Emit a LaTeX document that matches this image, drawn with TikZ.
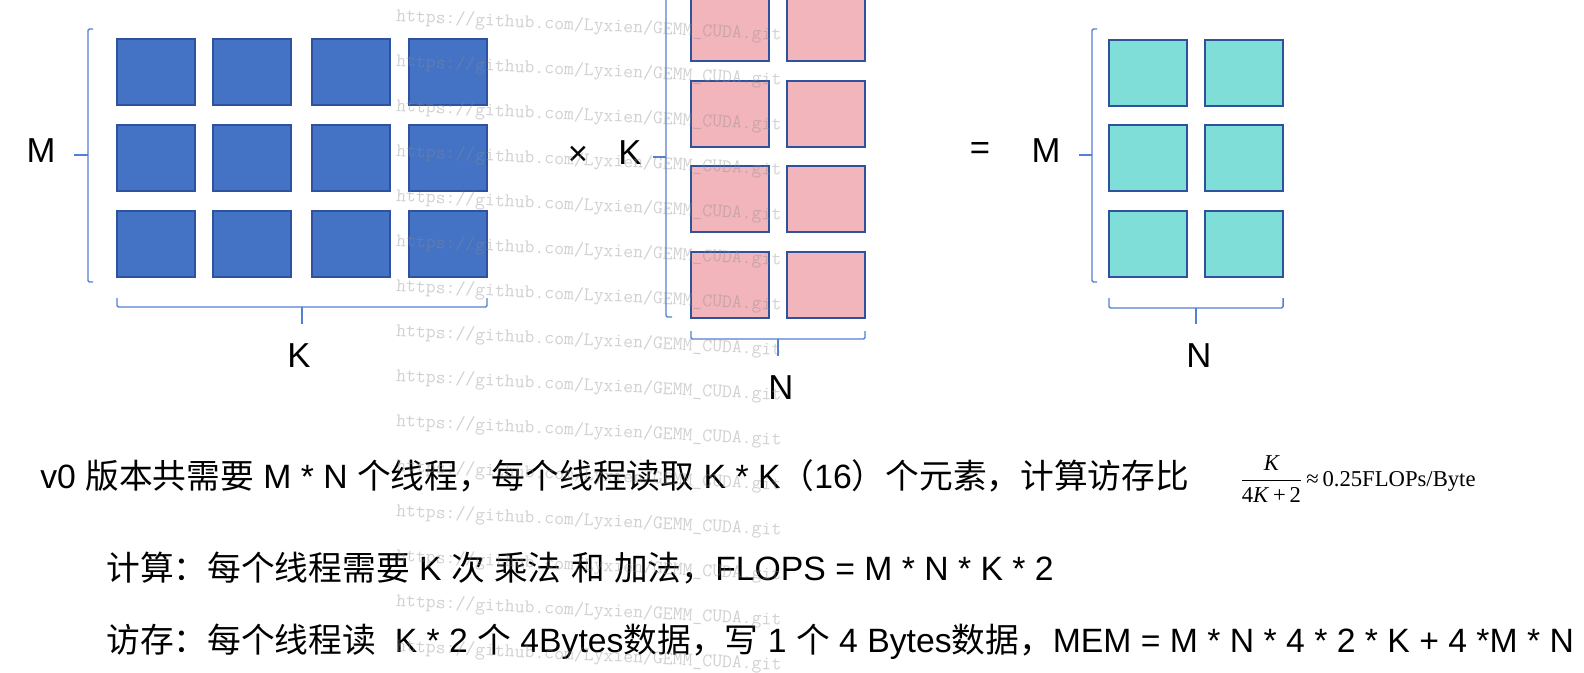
\documentclass[tikz,border=0pt]{standalone}
\usepackage{amsmath}
\usepackage{fontspec}
\usepackage{xcolor}
\usetikzlibrary{positioning}
\setmainfont{Liberation Sans}
\newfontfamily\cjk{Noto Sans CJK SC}
\newfontfamily\timesf{Liberation Serif}
\newcommand{\zh}[1]{{\cjk #1}}
\definecolor{blueA}{HTML}{4472C4}
\definecolor{pinkB}{HTML}{F3B5BC}
\definecolor{tealC}{HTML}{7FDED8}
\definecolor{cellline}{HTML}{2F529E}
\definecolor{bracketblue}{HTML}{5280D2}
\definecolor{wmgray}{HTML}{8C8C8C}

\begin{document}
\begin{tikzpicture}[x=0.75pt,y=-0.75pt,
    cellbox/.style={draw=cellline,line width=1.5pt,minimum width=58.5pt,
                    minimum height=49.5pt,inner sep=0pt},
    bracketline/.style={draw=bracketblue,line width=1.1pt,rounded corners=1pt},
    dimlabel/.style={font=\fontsize{26}{30}\selectfont,inner sep=0pt},
    bodytext/.style={font=\fontsize{25.3}{30}\selectfont,anchor=base west,inner sep=0pt},
    watermark/.style={font=\ttfamily\fontsize{14.4}{16}\selectfont,text=wmgray,
                      text opacity=0.4,anchor=west,rotate=-2.75,inner sep=0pt}]
  \useasboundingbox (0,0) rectangle (1584,672);

  % matrix A (M x K)
  \foreach \x [count=\i] in {156,252,351,447.5}
    \foreach \y [count=\j] in {72,157.5,243.5}
      \node[cellbox,fill=blueA] (a\j\i) at (\x,\y) {};
  % matrix B (K x N)
  \foreach \x [count=\i] in {730,826}
    \foreach \y [count=\j] in {27.5,113.5,198.5,284.5}
      \node[cellbox,fill=pinkB] (b\j\i) at (\x,\y) {};
  % matrix C (M x N)
  \foreach \x [count=\i] in {1148,1244}
    \foreach \y [count=\j] in {72.5,157.5,243.5}
      \node[cellbox,fill=tealC] (c\j\i) at (\x,\y) {};

  % brackets
  \draw[bracketline] (93,29) -- (88,29) -- (88,282) -- (93,282);
  \draw[bracketline] (74,155) -- (88,155);
  \draw[bracketline] (117,298) -- (117,307) -- (487,307) -- (487,298);
  \draw[bracketline] (302,307) -- (302,324);
  \draw[bracketline] (672,-3) -- (666,-3) -- (666,317) -- (672,317);
  \draw[bracketline] (653,157) -- (666,157);
  \draw[bracketline] (691,331) -- (691,339) -- (865,339) -- (865,331);
  \draw[bracketline] (778,339) -- (778,356);
  \draw[bracketline] (1097,29) -- (1092,29) -- (1092,282) -- (1097,282);
  \draw[bracketline] (1079,155) -- (1092,155);
  \draw[bracketline] (1109,298) -- (1109,308) -- (1283,308) -- (1283,298);
  \draw[bracketline] (1196,308) -- (1196,324);

  % dimension labels
  \node[dimlabel] (mA) at (41,151) {M};
  \node[dimlabel] (kA) at (299,356) {K};
  \node[dimlabel] (times) at (578,156) {×};
  \node[dimlabel] (kB) at (630,153) {K};
  \node[dimlabel] (nB) at (781,388) {N};
  \node[dimlabel] (equals) at (980,151) {=};
  \node[dimlabel] (mC) at (1046,151) {M};
  \node[dimlabel] (nC) at (1199,356) {N};

  % explanation
  \node[bodytext] (line1) at (40,488)
    {v0 \zh{版本共需要} M * N \zh{个线程，每个线程读取} K * K\zh{（}16\zh{）个元素，计算访存比}};
  \node[bodytext] (line2) at (106,580)
    {\zh{计算：每个线程需要} K \zh{次} \zh{乘法} \zh{和} \zh{加法，}FLOPS = M * N * K * 2};
  \node[bodytext] (line3) at (106,652)
    {\zh{访存：每个线程读}\ \ K * 2 \zh{个} 4Bytes\zh{数据，写} 1 \zh{个} 4 Bytes\zh{数据，}MEM = M * N * 4 * 2 * K + 4 *M * N};
  \node[inner sep=0pt,anchor=west,font=\fontsize{17}{20}\selectfont] (ratio) at (1240,479)
    {$\dfrac{\hbox{\timesf\itshape K}}{\hbox{\timesf 4\textit{K}\,+\,2}}$\,{\timesf ≈\,0.25FLOPs/Byte}};

  % watermark
  \foreach \k in {0,...,14}
    \node[watermark] at (396,17+45*\k) {https://github.com/Lyxien/GEMM\_CUDA.git};
\end{tikzpicture}
\end{document}
